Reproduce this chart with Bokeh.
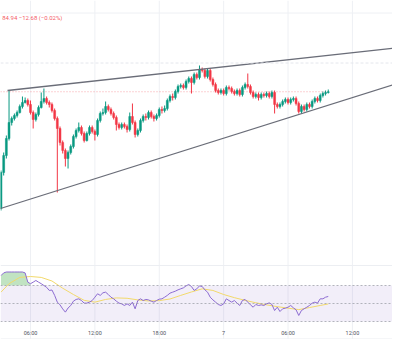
import numpy as np
from bokeh.plotting import figure
from bokeh.models import Range1d, Span
from bokeh.core.properties import value
from bokeh.embed import file_html
from bokeh.resources import INLINE

# ---- data (15-minute candles; x = hours since day-6 00:00) ----
first_hour = 3.25
step_hours = 0.25
open0 = 63018
closes = [63162, 63230, 63298,
          63362, 63378, 63390, 63402, 63426, 63442, 63450, 63434, 63402, 63374,
          63394, 63422, 63446, 63458, 63442, 63434, 63410, 63378, 63338, 63282,
          63250, 63218, 63242, 63266, 63306, 63330, 63342, 63318, 63290, 63318,
          63342, 63326, 63314, 63370, 63398, 63402, 63426, 63414, 63398, 63382,
          63354, 63342, 63354, 63346, 63334, 63386, 63362, 63314, 63330, 63370,
          63386, 63382, 63402, 63386, 63378, 63390, 63414, 63410, 63418, 63450,
          63466, 63462, 63486, 63506, 63510, 63502, 63526, 63538, 63522, 63554,
          63542, 63574, 63570, 63546, 63570, 63534, 63514, 63490, 63482, 63490,
          63478, 63502, 63498, 63486, 63478, 63490, 63474, 63502, 63514, 63506,
          63482, 63466, 63474, 63462, 63474, 63470, 63478, 63466, 63482, 63434,
          63426, 63434, 63446, 63454, 63442, 63454, 63458, 63438, 63406, 63426,
          63414, 63434, 63426, 63446, 63458, 63450, 63470, 63478, 63482, 63484.94]
highs = [63170, 63242, 63310,
         63490, 63386, 63398, 63410, 63434, 63466, 63462, 63458, 63450, 63410,
         63402, 63430, 63482, 63498, 63466, 63450, 63442, 63418, 63386, 63346,
         63290, 63258, 63250, 63274, 63314, 63338, 63362, 63350, 63326, 63326,
         63350, 63350, 63334, 63378, 63406, 63418, 63446, 63434, 63422, 63406,
         63390, 63362, 63362, 63362, 63354, 63402, 63438, 63370, 63338, 63378,
         63394, 63398, 63410, 63410, 63394, 63398, 63422, 63426, 63430, 63458,
         63474, 63478, 63494, 63514, 63518, 63518, 63534, 63546, 63546, 63562,
         63562, 63590, 63582, 63578, 63578, 63578, 63542, 63522, 63498, 63498,
         63498, 63510, 63510, 63506, 63494, 63498, 63498, 63510, 63522, 63558,
         63514, 63490, 63482, 63482, 63482, 63482, 63486, 63486, 63490, 63490,
         63442, 63442, 63454, 63462, 63462, 63462, 63466, 63466, 63446, 63434,
         63434, 63442, 63442, 63454, 63466, 63466, 63478, 63486, 63490, 63494]
lows = [63010, 63150, 63218,
        63290, 63350, 63370, 63382, 63398, 63418, 63438, 63426, 63394, 63338,
        63366, 63386, 63418, 63438, 63434, 63422, 63402, 63370, 63082, 63270,
        63238, 63186, 63178, 63234, 63258, 63298, 63322, 63310, 63282, 63286,
        63310, 63318, 63290, 63306, 63362, 63390, 63394, 63406, 63390, 63374,
        63330, 63334, 63334, 63338, 63322, 63326, 63354, 63302, 63306, 63322,
        63362, 63370, 63374, 63378, 63366, 63370, 63382, 63398, 63402, 63410,
        63442, 63450, 63454, 63478, 63498, 63494, 63494, 63518, 63478, 63514,
        63534, 63534, 63562, 63538, 63538, 63526, 63506, 63482, 63474, 63474,
        63470, 63470, 63490, 63478, 63470, 63470, 63466, 63466, 63494, 63498,
        63474, 63458, 63458, 63450, 63454, 63462, 63462, 63458, 63458, 63398,
        63418, 63418, 63426, 63438, 63434, 63434, 63446, 63430, 63398, 63398,
        63406, 63406, 63418, 63418, 63438, 63442, 63442, 63462, 63470, 63478]
rsi_vals = [81, 84, 85,
            85, 85, 85, 85, 85, 85, 84, 73.7, 72, 73.7,
            75.6, 73.7, 72, 70, 68, 64.5, 65, 59, 51.5, 48.5,
            44, 40.4, 45, 47.8, 52.6, 54.5, 55.2, 53.3, 50.4, 50.4,
            51.5, 53.3, 57, 60.8, 59, 61.9, 62.6, 60, 57, 55.2,
            52.6, 50.4, 49.6, 47.8, 49.6, 47.8, 51.5, 44.1, 53.3, 55.2,
            53.3, 54.5, 54, 52.6, 51.5, 53.3, 54.8, 55.2, 57, 59,
            61.5, 62.6, 63.7, 65.2, 66.3, 67.4, 69.6, 71.1, 68.9, 64.5,
            66.3, 69.6, 68.9, 65.2, 62.6, 57, 54, 51.5, 48.9, 47.8,
            49.6, 55.2, 53.3, 51.5, 53.3, 50.4, 47.8, 53.3, 54.5, 51.5,
            48.5, 45.9, 48.9, 47.8, 48.5, 47.8, 49.6, 50.7, 48.9, 42.2,
            45.9, 41.1, 44.1, 44.8, 45.9, 47.8, 45.2, 43, 36.7, 42.2,
            44.1, 45.9, 47.8, 50.4, 51.5, 50.4, 55.2, 55.2, 57, 57.8]
rsi_ma_hours = [3.25, 4, 5, 6, 7, 8, 9, 10, 11, 12, 13, 14, 15, 16, 17, 18, 19, 20,
                21, 22, 23, 24, 25, 26, 27, 28, 29, 30, 31, 32, 33, 33.75]
rsi_ma_vals = [62.6, 72, 79, 80, 79, 75, 67, 60, 53.5, 51.5, 54.5, 56.2, 55.8, 54,
               52.8, 53.2, 55, 59, 62.8, 66.3, 64.5, 60, 56.5, 53.5, 50.8, 48.5,
               46.5, 44.8, 43.2, 45.5, 47.8, 49.5]
rsi_levels = [70, 50, 30]
tick_hours = [6, 12, 18, 24, 30, 36]
tick_labels = ["06:00", "12:00", "18:00", "7", "06:00", "12:00"]
upper_trend_h = [3.857, 40.48]
upper_trend_p = [63490, 63662]
lower_trend_h = [3.204, 40.48]
lower_trend_p = [63018, 63522]
header_text = "84.94  \u221212.68 (\u22120.02%)"

# ---- colors ----
UP = "#089981"
DOWN = "#f23645"
GRID = "#eef0f4"
FONT = value("Roboto")

hours = first_hour + step_hours * np.arange(len(closes))
opens = [open0] + closes[:-1]
is_up = [c >= o for o, c in zip(opens, closes)]
colors = [UP if u else DOWN for u in is_up]
tops = [max(o, c) for o, c in zip(opens, closes)]
bots = [min(o, c) for o, c in zip(opens, closes)]

X0, X1 = 3.2042, 39.737
R0, R1 = 10.0, 386.67
p = figure(width=392, height=339, output_backend="svg", toolbar_location=None,
           x_range=Range1d(X0, X1), y_range=Range1d(62494, 63850),
           x_axis_location=None, y_axis_location=None, min_border=0,
           outline_line_color=None, background_fill_color="white",
           border_fill_color="white")
p.extra_y_ranges = {"rsi": Range1d(R0, R1)}
p.grid.visible = False

# vertical grid lines (ticks of the time axis)
p.segment(x0=tick_hours, x1=tick_hours, y0=[R0] * len(tick_hours),
          y1=[R1] * len(tick_hours), color=GRID, line_width=1, y_range_name="rsi")
# horizontal grid lines in the price pane
p.add_layout(Span(location=63800, dimension="width", line_color=GRID, line_width=1))
p.add_layout(Span(location=63600, dimension="width", line_color="#e4e6ec",
                  line_width=1, line_dash="3 2"))
# pane separators
p.add_layout(Span(location=92.2, dimension="width", line_color="#eceef2",
                  line_width=1, y_range_name="rsi"))
p.add_layout(Span(location=10.6, dimension="width", line_color="#eceef2",
                  line_width=1, y_range_name="rsi"))

# RSI band
p.varea(x=[X0, X1], y1=[30, 30], y2=[70, 70], fill_color="#7e57c2",
        fill_alpha=0.1, y_range_name="rsi")
for lv in rsi_levels:
    p.add_layout(Span(location=lv, dimension="width", line_color="#9598a1",
                      line_alpha=0.7, line_width=1, line_dash="2 2",
                      y_range_name="rsi"))
# overbought fill
ob_h = [h for h, r in zip(hours, rsi_vals) if h <= 6.0]
ob_r = [max(r, 70) for h, r in zip(hours, rsi_vals) if h <= 6.0]
p.varea(x=ob_h, y1=[70] * len(ob_h), y2=ob_r, fill_color="#4caf50",
        fill_alpha=0.35, y_range_name="rsi")
p.line(rsi_ma_hours, rsi_ma_vals, color="#f2d96b", line_width=1, y_range_name="rsi")
p.line(hours, rsi_vals, color="#8c6bd1", line_width=1, y_range_name="rsi")

# price line
p.line([X0, hours[-1]], [closes[-1], closes[-1]], color=DOWN, line_alpha=0.45,
       line_width=1, line_dash="1 2")

# candles
p.segment(x0=hours, x1=hours, y0=lows, y1=highs, color=colors, line_width=1)
p.vbar(x=hours, width=0.18, top=tops, bottom=bots, fill_color=colors,
       line_color=colors, line_width=0.5)

# trend lines
p.line(upper_trend_h, upper_trend_p, color="#6a6d78", line_width=1.3)
p.line(lower_trend_h, lower_trend_p, color="#6a6d78", line_width=1.3)

# texts
p.text(x=[3.363], y=[63782], text=[header_text], text_color=DOWN,
       text_alpha=0.85, text_font=FONT, text_font_size="6px",
       text_baseline="middle", text_align="left")
p.text(x=tick_hours, y=[16.7] * len(tick_hours), text=tick_labels,
       text_color="#50535e", text_font=FONT, text_font_size="5.5px",
       text_baseline="middle", text_align="center", y_range_name="rsi")

open("out.html", "w").write(file_html(p, INLINE))
